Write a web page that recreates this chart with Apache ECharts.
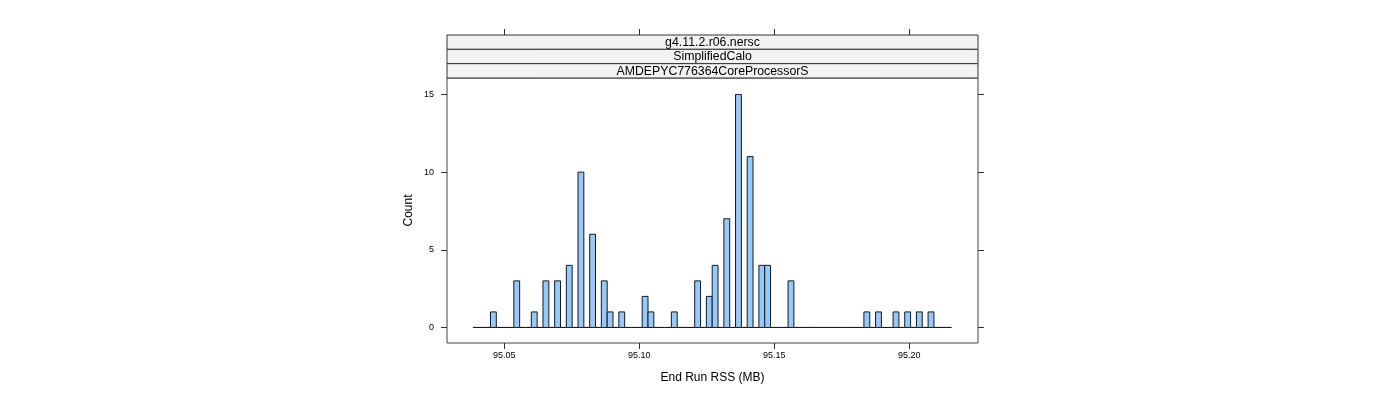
<!DOCTYPE html>
<html>
<head>
<meta charset="utf-8">
<script src="https://cdn.jsdelivr.net/npm/echarts@6/dist/echarts.min.js"></script>
<style>
  html, body { margin: 0; padding: 0; background: #fff; }
</style>
</head>
<body>
<div id="chart" style="width: 1400px; height: 400px"></div>
<script>
// histogram bins (MB): left edge of first bin and bin width
const binStart = 95.0384
const binWidth = 0.002161
// counts per bin
const counts = [
  0, 0, 0, 1, 0, 0, 0, 3, 0, 0,
  1, 0, 3, 0, 3, 0, 4, 0, 10, 0,
  6, 0, 3, 1, 0, 1, 0, 0, 0, 2,
  1, 0, 0, 0, 1, 0, 0, 0, 3, 0,
  2, 4, 0, 7, 0, 15, 0, 11, 0, 4,
  4, 0, 0, 0, 3, 0, 0, 0, 0, 0,
  0, 0, 0, 0, 0, 0, 0, 1, 0, 1,
  0, 0, 1, 0, 1, 0, 1, 0, 1, 0,
  0, 0
]
const xTicks = [95.05, 95.10, 95.15, 95.20]
const yTicks = [0, 5, 10, 15]
const stripLabels = ['g4.11.2.r06.nersc', 'SimplifiedCalo', 'AMDEPYC776364CoreProcessorS']

const FONT = 'Liberation Sans, Arial, sans-serif'
const chart = echarts.init(document.getElementById('chart'))

// [x0, x1, count]
const bins = counts.map((c, i) => [binStart + i * binWidth, binStart + (i + 1) * binWidth, c])

// strip panels above the plot
const stripTop = 35
const stripH = 14.33
const graphics = []
stripLabels.forEach((label, i) => {
  graphics.push({
    type: 'rect',
    shape: { x: 447, y: stripTop + i * stripH, width: 531, height: stripH },
    style: { fill: '#f2f2f2', stroke: '#333', lineWidth: 1 },
    z: 10
  })
  graphics.push({
    type: 'text',
    x: 712.5,
    y: stripTop + i * stripH + stripH / 2 + 0.5,
    style: {
      text: label, fill: '#000', font: '12.3px ' + FONT,
      align: 'center', verticalAlign: 'middle'
    },
    z: 11
  })
})

const tickStyle = { show: true, length: 6, inside: false, lineStyle: { color: '#333', width: 1 } }

const option = {
  animation: false,
  textStyle: { fontFamily: FONT },
  grid: {
    left: 447, top: 78, width: 531, height: 265,
    show: true, borderColor: '#444', borderWidth: 1, backgroundColor: 'transparent'
  },
  graphic: graphics,
  xAxis: [
    {
      type: 'value',
      position: 'bottom',
      min: 95.028778,
      max: 95.225444,
      splitLine: { show: false },
      axisLine: { show: false, onZero: false },
      axisTick: Object.assign({ customValues: xTicks }, tickStyle),
      axisLabel: {
        customValues: xTicks, color: '#000', fontSize: 9, margin: 8,
        formatter: v => v.toFixed(2)
      },
      name: 'End Run RSS (MB)',
      nameLocation: 'middle',
      nameGap: 29,
      nameTextStyle: { color: '#000', fontSize: 12 }
    },
    {
      type: 'value',
      position: 'top',
      offset: 43,
      min: 95.028778,
      max: 95.225444,
      splitLine: { show: false },
      axisLine: { show: false, onZero: false },
      axisTick: Object.assign({ customValues: xTicks }, tickStyle),
      axisLabel: { show: false }
    }
  ],
  yAxis: [
    {
      type: 'value',
      position: 'left',
      min: -1,
      max: 16.06,
      splitLine: { show: false },
      axisLine: { show: false, onZero: false },
      axisTick: Object.assign({ customValues: yTicks }, tickStyle),
      axisLabel: { customValues: yTicks, color: '#000', fontSize: 9, margin: 13 },
      name: 'Count',
      nameLocation: 'middle',
      nameGap: 32,
      nameTextStyle: { color: '#000', fontSize: 12 }
    },
    {
      type: 'value',
      position: 'right',
      min: -1,
      max: 16.06,
      splitLine: { show: false },
      axisLine: { show: false, onZero: false },
      axisTick: Object.assign({ customValues: yTicks }, tickStyle),
      axisLabel: { show: false }
    }
  ],
  series: [
    {
      type: 'custom',
      xAxisIndex: 0,
      yAxisIndex: 0,
      data: bins,
      encode: { x: [0, 1], y: 2 },
      renderItem(params, api) {
        const p0 = api.coord([api.value(0), api.value(2)])
        const p1 = api.coord([api.value(1), 0])
        return {
          type: 'rect',
          shape: { x: p0[0], y: p0[1], width: p1[0] - p0[0], height: p1[1] - p0[1] },
          style: { fill: '#96c8fa', stroke: '#1a1a1a', lineWidth: 1 }
        }
      }
    }
  ]
}

chart.setOption(option)
</script>
</body>
</html>
